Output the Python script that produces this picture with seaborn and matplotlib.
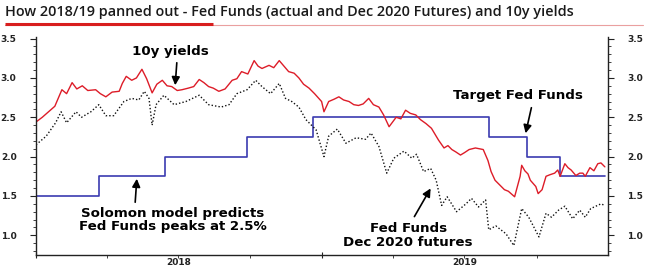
import matplotlib
matplotlib.use("Agg")
import matplotlib.pyplot as plt
import matplotlib.dates as mdates
from matplotlib.lines import Line2D
from matplotlib.patches import FancyArrowPatch
import pandas as pd
import seaborn as sns

# ---------------- data ----------------
yield_dates = ["2018-01-01", "2018-01-09", "2018-01-17", "2018-01-25", "2018-02-03", "2018-02-09",
               "2018-02-16", "2018-02-22", "2018-03-01", "2018-03-08", "2018-03-18", "2018-03-24",
               "2018-03-31", "2018-04-08", "2018-04-17", "2018-04-21", "2018-04-26", "2018-05-03",
               "2018-05-09", "2018-05-16", "2018-05-22", "2018-05-29", "2018-06-04", "2018-06-11",
               "2018-06-17", "2018-06-23", "2018-06-30", "2018-07-06", "2018-07-14", "2018-07-21",
               "2018-07-28", "2018-08-03", "2018-08-09", "2018-08-15", "2018-08-22", "2018-08-30",
               "2018-09-08", "2018-09-14", "2018-09-20", "2018-09-28", "2018-10-06", "2018-10-11",
               "2018-10-16", "2018-10-25", "2018-10-31", "2018-11-07", "2018-11-13", "2018-11-19",
               "2018-11-26", "2018-12-02", "2018-12-08", "2018-12-15", "2018-12-22", "2018-12-31",
               "2019-01-03", "2019-01-09", "2019-01-16", "2019-01-22", "2019-01-28", "2019-02-04",
               "2019-02-10", "2019-02-16", "2019-02-22", "2019-03-01", "2019-03-07", "2019-03-14",
               "2019-03-20", "2019-03-27", "2019-04-05", "2019-04-11", "2019-04-17", "2019-04-23",
               "2019-04-30", "2019-05-06", "2019-05-13", "2019-05-20", "2019-05-29", "2019-06-05",
               "2019-06-10", "2019-06-15", "2019-06-20", "2019-06-26", "2019-07-01", "2019-07-07",
               "2019-07-15", "2019-07-25", "2019-07-31", "2019-08-04", "2019-08-09", "2019-08-13",
               "2019-08-17", "2019-08-21", "2019-08-26", "2019-09-03", "2019-09-10", "2019-09-12",
               "2019-09-16", "2019-09-20", "2019-09-23", "2019-09-30", "2019-10-03", "2019-10-08",
               "2019-10-13", "2019-10-18", "2019-10-24", "2019-10-28", "2019-10-31", "2019-11-06",
               "2019-11-10", "2019-11-14", "2019-11-20", "2019-11-25", "2019-11-29", "2019-12-02",
               "2019-12-08", "2019-12-13", "2019-12-18", "2019-12-22", "2019-12-27"]
yield_10y = [2.44, 2.50, 2.57, 2.64, 2.85, 2.80,
             2.94, 2.86, 2.90, 2.84, 2.85, 2.80,
             2.76, 2.82, 2.83, 2.93, 3.02, 2.97,
             3.00, 3.11, 2.99, 2.81, 2.92, 2.97,
             2.90, 2.89, 2.84, 2.85, 2.87, 2.89,
             2.98, 2.94, 2.89, 2.87, 2.83, 2.86,
             2.97, 2.99, 3.08, 3.05, 3.22, 3.15,
             3.12, 3.16, 3.13, 3.22, 3.15, 3.08,
             3.06, 3.00, 2.92, 2.87, 2.80, 2.70,
             2.57, 2.70, 2.73, 2.76, 2.72, 2.70,
             2.66, 2.65, 2.67, 2.74, 2.66, 2.63,
             2.53, 2.38, 2.50, 2.48, 2.59, 2.55,
             2.53, 2.47, 2.42, 2.36, 2.21, 2.11,
             2.14, 2.09, 2.06, 2.02, 2.05, 2.09,
             2.11, 2.09, 1.95, 1.81, 1.70, 1.66,
             1.62, 1.58, 1.56, 1.49, 1.75, 1.89,
             1.82, 1.78, 1.70, 1.62, 1.53, 1.58,
             1.75, 1.77, 1.79, 1.83, 1.75, 1.91,
             1.86, 1.83, 1.76, 1.79, 1.79, 1.75,
             1.86, 1.82, 1.91, 1.92, 1.87]

fut_dates = ["2018-01-01", "2018-01-14", "2018-01-26", "2018-02-02", "2018-02-09", "2018-02-21",
             "2018-02-28", "2018-03-12", "2018-03-22", "2018-03-31", "2018-04-10", "2018-04-23",
             "2018-05-03", "2018-05-12", "2018-05-19", "2018-05-25", "2018-05-29", "2018-06-03",
             "2018-06-13", "2018-06-26", "2018-07-11", "2018-07-28", "2018-08-09", "2018-08-25",
             "2018-09-04", "2018-09-14", "2018-09-27", "2018-10-08", "2018-10-16", "2018-10-27",
             "2018-11-07", "2018-11-15", "2018-11-23", "2018-12-02", "2018-12-11", "2018-12-24",
             "2019-01-03", "2019-01-09", "2019-01-20", "2019-01-31", "2019-02-13", "2019-02-25",
             "2019-03-04", "2019-03-14", "2019-03-24", "2019-04-02", "2019-04-15", "2019-04-25",
             "2019-05-01", "2019-05-10", "2019-05-19", "2019-05-26", "2019-06-02", "2019-06-09",
             "2019-06-21", "2019-07-03", "2019-07-10", "2019-07-19", "2019-07-28", "2019-08-01",
             "2019-08-10", "2019-08-23", "2019-09-02", "2019-09-12", "2019-09-21", "2019-10-04",
             "2019-10-13", "2019-10-20", "2019-10-29", "2019-11-06", "2019-11-16", "2019-11-25",
             "2019-12-02", "2019-12-09", "2019-12-22", "2019-12-27"]
fut_dec2020 = [2.15, 2.26, 2.43, 2.57, 2.43, 2.57,
               2.50, 2.57, 2.66, 2.52, 2.52, 2.70,
               2.74, 2.72, 2.83, 2.74, 2.40, 2.66,
               2.78, 2.66, 2.70, 2.78, 2.66, 2.63,
               2.66, 2.80, 2.85, 2.97, 2.89, 2.80,
               2.93, 2.74, 2.70, 2.63, 2.47, 2.34,
               2.00, 2.26, 2.35, 2.17, 2.24, 2.22,
               2.30, 2.13, 1.79, 1.98, 2.07, 1.98,
               2.03, 1.81, 1.85, 1.70, 1.38, 1.49,
               1.30, 1.40, 1.47, 1.36, 1.45, 1.07,
               1.12, 1.02, 0.87, 1.34, 1.23, 0.98,
               1.28, 1.23, 1.32, 1.37, 1.21, 1.32,
               1.23, 1.34, 1.40, 1.38]

ff_dates = ["2018-01-01", "2018-03-22", "2018-06-14", "2018-09-27", "2018-12-20",
            "2019-08-01", "2019-09-19", "2019-10-31", "2019-12-27"]
fed_funds = [1.50, 1.75, 2.00, 2.25, 2.50, 2.25, 2.00, 1.75, 1.75]

y_ticks = [1.0, 1.5, 2.0, 2.5, 3.0, 3.5]
year_labels = ["2018", "2019"]

title = "How 2018/19 panned out - Fed Funds (actual and Dec 2020 Futures) and 10y yields"

# ---------------- build frames ----------------
df_y = pd.DataFrame({"date": pd.to_datetime(yield_dates), "value": yield_10y})
df_f = pd.DataFrame({"date": pd.to_datetime(fut_dates), "value": fut_dec2020})
df_ff = pd.DataFrame({"date": pd.to_datetime(ff_dates), "value": fed_funds})

sns.set_style("white")
plt.rcParams["font.family"] = ["DejaVu Sans"]

W, H = 658, 274
fig = plt.figure(figsize=(W / 100, H / 100), dpi=100)
fig.patch.set_facecolor("white")
ax = fig.add_axes([36 / W, 19 / H, (608 - 36) / W, (237 - 19) / H])

sns.lineplot(data=df_ff, x="date", y="value", ax=ax, color="#3b3bb0", lw=1.2,
             drawstyle="steps-post", sort=False)
sns.lineplot(data=df_f, x="date", y="value", ax=ax, color="#111111", lw=1.0,
             linestyle=(0, (1, 1.5)), sort=False)
sns.lineplot(data=df_y, x="date", y="value", ax=ax, color="#dd1c28", lw=1.0, sort=False)

ax.set_xlim(pd.Timestamp("2018-01-01"), pd.Timestamp("2019-12-31"))
ax.set_ylim(0.75, 3.52)
ax.set_xlabel("")
ax.set_ylabel("")

for s in ["left", "right", "bottom"]:
    ax.spines[s].set_visible(True)
    ax.spines[s].set_color("#222222")
    ax.spines[s].set_linewidth(1.0)
ax.spines["top"].set_visible(False)

ax.set_yticks(y_ticks)
ax.set_yticklabels([f"{v:.1f}" for v in y_ticks])
ax.set_yticks([v / 10 for v in range(8, 36)], minor=True)
ax.tick_params(axis="y", which="major", left=True, right=True, labelleft=True, labelright=True,
               direction="out", length=4, width=0.8, pad=10, labelsize=6.5, colors="#222222")
ax.tick_params(axis="y", which="minor", left=True, right=True, direction="out", length=2.5,
               width=0.6, colors="#222222")
for lab in ax.get_yticklabels():
    lab.set_fontweight("bold")

# x axis: year boundaries as ticks, quarter minor ticks, labels centred in each year
ax.xaxis.set_major_locator(mdates.YearLocator())
ax.xaxis.set_major_formatter(plt.NullFormatter())
ax.xaxis.set_minor_locator(mdates.MonthLocator(bymonth=[4, 7, 10]))
ax.tick_params(axis="x", which="major", bottom=True, direction="inout", length=5, width=0.8,
               colors="#222222")
ax.tick_params(axis="x", which="minor", bottom=True, direction="out", length=2.5, width=0.6,
               colors="#222222")
for yl in year_labels:
    ax.text(pd.Timestamp(f"{yl}-07-02"), -0.015, yl, transform=ax.get_xaxis_transform(),
            ha="center", va="top", fontsize=6.5, fontweight="bold", color="#222222")

# ---------------- annotations ----------------
tkw = dict(fontsize=9.6, fontweight="bold", color="black", ha="center", va="center")
akw = dict(arrowstyle="-|>", color="black", lw=1.2, mutation_scale=12)


def px(x, y):
    return (x / W, 1 - y / H)


fig.text(*px(170, 52), "10y yields", **tkw)
fig.add_artist(FancyArrowPatch(px(177, 60), px(175, 88), transform=fig.transFigure, **akw))

fig.text(*px(173, 213), "Solomon model predicts", **tkw)
fig.text(*px(173, 226.5), "Fed Funds peaks at 2.5%", **tkw)
fig.add_artist(FancyArrowPatch(px(135, 205), px(137, 176), transform=fig.transFigure, **akw))

fig.text(*px(518, 95), "Target Fed Funds", **tkw)
fig.add_artist(FancyArrowPatch(px(532, 105), px(525, 136), transform=fig.transFigure, **akw))

fig.text(*px(409, 228), "Fed Funds", **tkw)
fig.text(*px(408, 242), "Dec 2020 futures", **tkw)
fig.add_artist(FancyArrowPatch(px(413, 219), px(432, 186), transform=fig.transFigure, **akw))

# ---------------- title with underline ----------------
fig.text(5 / W, 1 - 12 / H, title, fontsize=10.4, family=["Open Sans", "DejaVu Sans"],
         fontweight="semibold", color="#1a1a1a", ha="left", va="center")
fig.add_artist(Line2D([5 / W, 643 / W], [1 - 24.5 / H] * 2, color="#eaa0a0", lw=0.8,
                      transform=fig.transFigure))
fig.add_artist(Line2D([5 / W, 213 / W], [1 - 24 / H] * 2, color="#d81e1e", lw=2.2,
                      transform=fig.transFigure, solid_capstyle="butt"))

fig.savefig("out.png", dpi=100, facecolor="white")
